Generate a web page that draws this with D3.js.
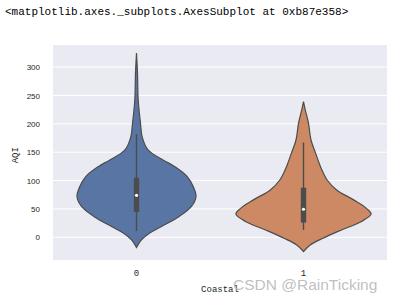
<!DOCTYPE html>
<html>
<head>
<meta charset="utf-8">
<script src="https://cdn.jsdelivr.net/npm/d3@7"></script>
<style>
  body { margin: 0; background: #ffffff; }
  svg { display: block; }
</style>
</head>
<body>
<div id="chart"></div>
<script>
// values
var categories = ["0", "1"];
var yTicks = [0, 50, 100, 150, 200, 250, 300];

// violin outline: AQI level and relative density (half width)
var levels0  = [-18, -5, 7, 19, 36, 54, 72, 89, 107, 125, 136, 154, 177, 201, 242, 289, 325];
var density0 = [0, 0.07, 0.19, 0.37, 0.62, 0.81, 0.88, 0.84, 0.75, 0.56, 0.40, 0.17, 0.084, 0.059, 0.025, 0.015, 0];
var levels1  = [-25, -13.6, -2, 13, 27.5, 41, 51, 66, 83.5, 101, 125, 148, 172, 201, 225, 239];
var density1 = [0, 0.10, 0.28, 0.56, 0.85, 1.0, 0.93, 0.74, 0.49, 0.35, 0.25, 0.18, 0.11, 0.074, 0.025, 0];

// box stats: whisker low, q1, median, q3, whisker high
var box0 = [11, 45, 74, 105, 182];
var box1 = [13, 26, 49.5, 87.5, 167];

var violins = [
    {cat: "0", levels: levels0, density: density0, box: box0, color: "#5975a4"},
    {cat: "1", levels: levels1, density: density1, box: box1, color: "#cc8963"}
];

var width = 396, height = 302;
var margin = {top: 45, right: 9, bottom: 42, left: 53};
var w = width - margin.left - margin.right,
    h = height - margin.top - margin.bottom;

var svg = d3.select("#chart").append("svg")
    .attr("width", width)
    .attr("height", height);

svg.append("text")
    .attr("x", 5)
    .attr("y", 15)
    .attr("font-family", "Liberation Mono, monospace")
    .attr("font-size", 11)
    .attr("fill", "#000")
    .text("<matplotlib.axes._subplots.AxesSubplot at 0xb87e358>");

var g = svg.append("g")
    .attr("transform", "translate(" + margin.left + "," + margin.top + ")");

var x = d3.scaleBand().domain(categories).range([0, w]);
var y = d3.scaleLinear().domain([-40, 339]).range([h, 0]);
var dens = d3.scaleLinear().domain([0, 1]).range([0, x.bandwidth() * 0.405]);

g.append("rect")
    .attr("width", w)
    .attr("height", h)
    .attr("fill", "#eaeaf2");

// grid
g.append("g")
    .selectAll("line")
    .data(yTicks)
    .enter().append("line")
    .attr("x1", 0)
    .attr("x2", w)
    .attr("y1", function(d) { return y(d); })
    .attr("y2", function(d) { return y(d); })
    .attr("stroke", "#ffffff")
    .attr("stroke-width", 1);

// y axis labels
var yAxis = g.append("g")
    .call(d3.axisLeft(y).tickValues(yTicks).tickSize(0).tickPadding(13));
yAxis.select(".domain").remove();
yAxis.selectAll("text")
    .attr("font-family", "Liberation Sans, sans-serif")
    .attr("font-size", 8)
    .attr("fill", "#262626");

// x axis labels
var xAxis = g.append("g")
    .attr("transform", "translate(0," + h + ")")
    .call(d3.axisBottom(x).tickSize(0).tickPadding(10));
xAxis.select(".domain").remove();
xAxis.selectAll("text")
    .attr("font-family", "Liberation Mono, monospace")
    .attr("font-size", 9)
    .attr("fill", "#262626");

// violins
violins.forEach(function(v) {
    var cx = x(v.cat) + x.bandwidth() / 2;
    var pts = v.levels.map(function(l, i) { return {level: l, d: v.density[i]}; });

    var area = d3.area()
        .curve(d3.curveCatmullRom)
        .y(function(d) { return y(d.level); })
        .x0(function(d) { return cx - dens(d.d); })
        .x1(function(d) { return cx + dens(d.d); });

    g.append("path")
        .datum(pts)
        .attr("d", area)
        .attr("fill", v.color)
        .attr("stroke", "#4c4c4c")
        .attr("stroke-width", 1.2);

    var b = v.box;
    g.append("line")
        .attr("x1", cx).attr("x2", cx)
        .attr("y1", y(b[0])).attr("y2", y(b[4]))
        .attr("stroke", "#4c4c4c")
        .attr("stroke-width", 1.4);
    g.append("rect")
        .attr("x", cx - 2.7)
        .attr("width", 5.4)
        .attr("y", y(b[3]))
        .attr("height", y(b[1]) - y(b[3]))
        .attr("fill", "#4c4c4c");
    g.append("circle")
        .attr("cx", cx)
        .attr("cy", y(b[2]))
        .attr("r", 1.6)
        .attr("fill", "#ffffff");
});

// labels
svg.append("text")
    .attr("transform", "translate(18," + (margin.top + y(150) + 3) + ") rotate(-90)")
    .attr("text-anchor", "middle")
    .attr("font-family", "Liberation Mono, monospace")
    .attr("font-size", 9)
    .attr("fill", "#262626")
    .text("AQI");

svg.append("text")
    .attr("x", margin.left + w / 2)
    .attr("y", 292)
    .attr("text-anchor", "middle")
    .attr("font-family", "Liberation Mono, monospace")
    .attr("font-size", 9)
    .attr("fill", "#262626")
    .text("Coastal");

svg.append("text")
    .attr("x", 233)
    .attr("y", 290)
    .attr("font-family", "Liberation Sans, Arial, sans-serif")
    .attr("font-size", 15.5)
    .attr("fill", "#b8b8b8")
    .attr("fill-opacity", 0.9)
    .text("CSDN @RainTicking");
</script>
</body>
</html>
